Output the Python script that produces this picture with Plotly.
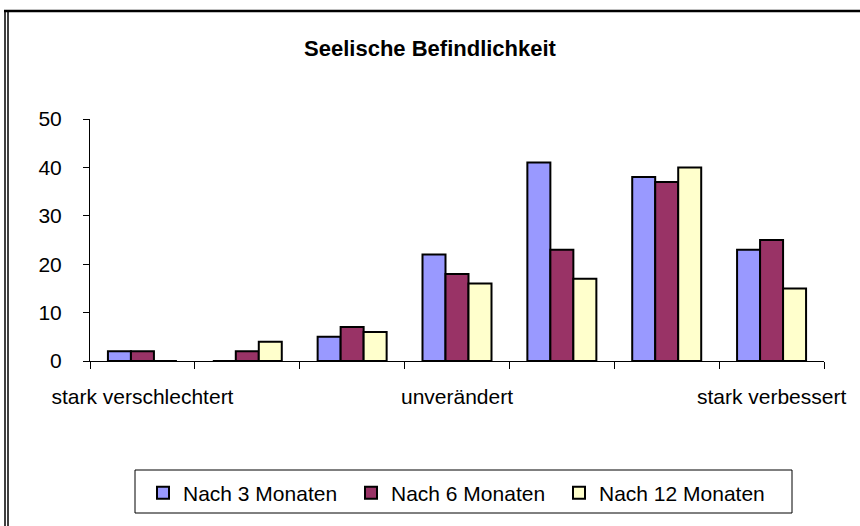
import plotly.graph_objects as go

categories = ["stark verschlechtert", "2", "3", "unverändert", "5", "6", "stark verbessert"]
tick_labels = ["stark verschlechtert", "", "", "unverändert", "", "", "stark verbessert"]
series_names = ["Nach 3 Monaten", "Nach 6 Monaten", "Nach 12 Monaten"]
nach_3 = [2, 0, 5, 22, 41, 38, 23]
nach_6 = [2, 2, 7, 18, 23, 37, 25]
nach_12 = [0, 4, 6, 16, 17, 40, 15]
colors = ["#9999FF", "#993366", "#FFFFCC"]
y_ticks = [0, 10, 20, 30, 40, 50]

FONT = "Liberation Sans, Arial, sans-serif"

fig = go.Figure()
for name, vals, col in zip(series_names, [nach_3, nach_6, nach_12], colors):
    fig.add_trace(go.Bar(
        x=categories, y=vals, name=name,
        marker=dict(color=col, line=dict(color="black", width=2)),
    ))

# plot area: x 90..824 px, y 119..361 px
L, R, T, B = 90, 36, 119, 165
W = 860 - L - R
H = 526 - T - B

def px_x(px):
    return (px - L) / W

def px_y(py):
    return (526 - B - py) / H

fig.update_layout(
    width=860, height=526,
    margin=dict(l=L, r=R, t=T, b=B, autoexpand=False),
    paper_bgcolor="white", plot_bgcolor="white",
    font=dict(family=FONT, color="black", size=20),
    barmode="group", bargap=0.342, bargroupgap=0,
    title=dict(text="<b>Seelische Befindlichkeit</b>", x=0.5, xanchor="center",
               y=1 - 48 / 526, yanchor="middle", yref="container",
               font=dict(size=22, family=FONT, color="black")),
    xaxis=dict(type="category", tickmode="array", tickvals=categories, ticktext=tick_labels,
               tickson="boundaries", ticks="outside", ticklen=7, tickcolor="black", tickwidth=1,
               showline=True, linecolor="black", linewidth=1, showgrid=False, zeroline=False,
               tickfont=dict(size=21, family=FONT), ticklabelstandoff=17, tickangle=0,
               range=[-0.5, 6.5], fixedrange=True),
    yaxis=dict(range=[0, 50], tickvals=y_ticks, ticks="outside", ticklen=6, tickcolor="black",
               showline=True, linecolor="black", linewidth=1, showgrid=False, zeroline=False,
               tickfont=dict(size=21, family=FONT), ticklabelstandoff=17, fixedrange=True),
    legend=dict(orientation="h", xref="container", yref="container",
                x=143 / 860, y=1 - 493 / 526, xanchor="left", yanchor="middle",
                borderwidth=0, bgcolor="rgba(0,0,0,0)",
                font=dict(size=21, family=FONT), entrywidth=163, entrywidthmode="pixels",
                itemwidth=30, traceorder="normal"),
    showlegend=True,
)

# legend frame
fig.add_shape(type="rect", xref="paper", yref="paper",
              x0=px_x(135), x1=px_x(792), y0=px_y(470), y1=px_y(513),
              line=dict(color="black", width=1), fillcolor="rgba(0,0,0,0)", layer="below")

# outer frame (double line at left, thick line at top)
for px in (5, 8):
    fig.add_shape(type="line", xref="paper", yref="paper",
                  x0=px_x(px), x1=px_x(px), y0=px_y(10), y1=px_y(540),
                  line=dict(color="black", width=1.5))
fig.add_shape(type="line", xref="paper", yref="paper",
              x0=px_x(4), x1=px_x(870), y0=px_y(11), y1=px_y(11),
              line=dict(color="black", width=2.5))

fig.write_html("out.html", config={"displayModeBar": False},
               post_script="document.body.style.margin='0';document.body.style.overflow='hidden';")
